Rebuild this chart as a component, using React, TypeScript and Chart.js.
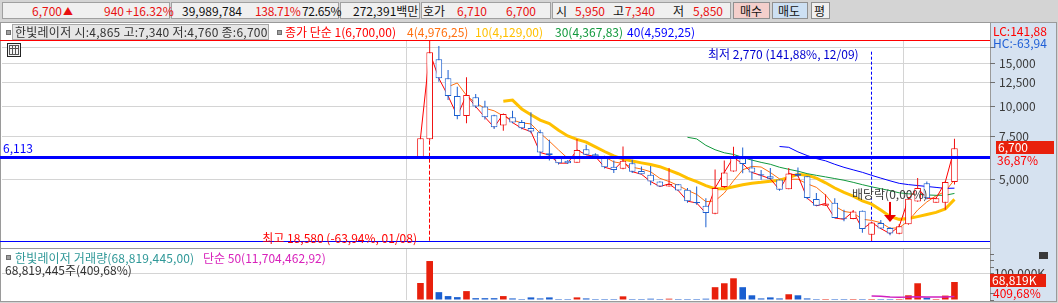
import React, { useEffect, useRef } from 'react';
import { Chart, registerables } from 'chart.js';

Chart.register(...registerables);

const FONT = "'Noto Sans CJK KR', 'Noto Sans', sans-serif";

// ---- weekly candles (index 0..58) ----
const opens = [6150, 7300, 15580, 13010, 11010, 9110, 10870, 9950, 9170, 8310, 9000, 8600, 8120, 7800, 6400, 6200, 5960, 5850, 6640, 6330, 6200, 5630, 5515, 5820, 5410, 5210, 4890, 4665, 4770, 4520, 4030, 3885, 3600, 4640, 5375, 6100, 5580, 5240, 5140, 4980, 4550, 5260, 5140, 4140, 3885, 4000, 3450, 3430, 3710, 2950, 3300, 3150, 2980, 3260, 4045, 4815, 4000, 4000, 4865];
const highs = [7400, 18580, 17670, 14080, 12020, 13140, 11220, 10520, 9200, 9300, 9570, 8770, 9420, 7980, 7260, 6230, 6000, 7320, 6930, 6400, 6250, 5970, 6810, 6010, 5640, 5660, 4900, 5560, 4780, 4600, 4660, 4170, 5480, 5970, 6800, 6750, 6100, 5460, 5560, 4990, 5560, 5590, 5150, 4390, 4330, 4170, 3740, 3730, 3720, 3320, 3400, 3180, 3270, 4220, 5055, 4890, 4180, 4900, 7340];
const lows = [6120, 7200, 12600, 10600, 8820, 8500, 9820, 8800, 8050, 7910, 8500, 8030, 7730, 6150, 5970, 5750, 5780, 5850, 6290, 6150, 5530, 5300, 5500, 5300, 5230, 4720, 4650, 4650, 4480, 4000, 3920, 3170, 3590, 4600, 5370, 5290, 4970, 4970, 4970, 4480, 4540, 5120, 4130, 3880, 3880, 3450, 3360, 3420, 3010, 2770, 3120, 2940, 2970, 3250, 4040, 4130, 4000, 3740, 4760];
const closes = [7370, 16650, 13010, 11010, 9110, 11110, 9950, 9000, 8180, 9280, 8550, 8100, 7850, 6440, 6280, 5820, 5820, 6600, 6300, 6200, 5600, 5460, 5960, 5370, 5240, 4890, 4665, 4780, 4490, 4060, 3990, 3625, 4600, 5330, 6150, 5780, 5330, 5180, 5020, 4520, 5280, 5170, 4180, 3885, 3970, 3460, 3420, 3680, 3115, 3320, 3130, 2985, 3200, 4150, 4600, 4170, 4170, 4865, 6700];
const volumes = [65000000, 149000000, 30000000, 15000000, 11000000, 34000000, 7000000, 7000000, 7000000, 15000000, 6000000, 2500000, 10000000, 6000000, 10000000, 2500000, 2500000, 10000000, 6000000, 2000000, 2000000, 2000000, 14000000, 2000000, 2000000, 5000000, 2000000, 5000000, 2000000, 2000000, 2000000, 5000000, 49000000, 64000000, 83000000, 49000000, 18000000, 6000000, 10000000, 6000000, 22000000, 18000000, 6000000, 2000000, 2000000, 2000000, 2000000, 2000000, 2000000, 2000000, 2000000, 2000000, 2000000, 18000000, 64000000, 9000000, 2000000, 16800000, 68819445];

const priceTicks = [5000, 7500, 10000, 12500, 15000, 17500];
const volumeTicks = [0, 25000000, 50000000, 75000000, 100000000, 125000000, 150000000, 175000000];
const volumeLabelTick = 100000000;
const yearDividers = [-1.5, 52.5];
const maPeriods = [4, 10, 30, 40];
const maColors = ['#ff7010', '#ffc000', '#10983c', '#0000ff'];
const maWidths = [1, 3, 1, 1];
const userLine = 6113;
const dividendIndex = 51;

const PRICE_MIN = Math.min(...lows);
const PRICE_MAX = Math.max(...highs);
const HIGH_IDX = highs.indexOf(PRICE_MAX);
const LOW_IDX = lows.indexOf(PRICE_MIN);
const X_MIN = -45.45;
const X_MAX = 61.86;
const VOL_MAX = 195000000;

const UP = '#f01010';
const DOWN = '#1a5fd0';
const candleColors = closes.map((c, i) => (c >= opens[i] ? UP : DOWN));
const volColors = closes.map((c, i) => (c >= opens[i] ? '#e8200c' : '#1a5fd0'));

const sma = (src: number[], n: number) =>
  src
    .map((_, i) => (i < n - 1 ? null : { x: i, y: src.slice(i - n + 1, i + 1).reduce((a, b) => a + b, 0) / n }))
    .filter((p) => p !== null) as { x: number; y: number }[];

const fmt = (v: number) => Math.round(v).toLocaleString('en-US');

const overlay = {
  id: 'overlay',
  beforeDatasetsDraw(chart: any) {
    const { ctx, chartArea: a, scales } = chart;
    const x = scales.x;
    const y = scales.y;
    ctx.save();
    ctx.lineWidth = 1;
    const hx = Math.floor(x.getPixelForValue(HIGH_IDX)) + 0.5;
    ctx.strokeStyle = '#ff0000';
    ctx.setLineDash([4, 2]);
    ctx.beginPath();
    ctx.moveTo(hx, y.getPixelForValue(lows[HIGH_IDX]));
    ctx.lineTo(hx, a.bottom);
    ctx.stroke();
    const lx = Math.floor(x.getPixelForValue(LOW_IDX)) + 0.5;
    ctx.strokeStyle = '#0000ff';
    ctx.setLineDash([3, 2]);
    ctx.beginPath();
    ctx.moveTo(lx, a.top + 11);
    ctx.lineTo(lx, y.getPixelForValue(highs[LOW_IDX]));
    ctx.stroke();
    ctx.restore();
  },
  afterDatasetsDraw(chart: any) {
    const { ctx, chartArea: a, scales } = chart;
    const x = scales.x;
    const y = scales.y;
    ctx.save();
    const hline = (v: number, color: string, w: number) => {
      const py = Math.floor(y.getPixelForValue(v)) + (w % 2 ? 0.5 : 0);
      ctx.strokeStyle = color;
      ctx.lineWidth = w;
      ctx.beginPath();
      ctx.moveTo(a.left - 2, py);
      ctx.lineTo(a.right, py);
      ctx.stroke();
    };
    hline(PRICE_MAX, '#ff0000', 1);
    hline(PRICE_MIN, '#0000ff', 1);
    hline(userLine, '#0000ff', 3);
    // dividend marker
    const dx = x.getPixelForValue(dividendIndex);
    const tip = y.getPixelForValue(highs[dividendIndex]) - 5;
    ctx.fillStyle = '#e80000';
    ctx.beginPath();
    ctx.moveTo(dx - 6, tip - 7);
    ctx.lineTo(dx + 6, tip - 7);
    ctx.lineTo(dx, tip);
    ctx.closePath();
    ctx.fill();
    ctx.strokeStyle = '#e80000';
    ctx.lineWidth = 2;
    ctx.beginPath();
    ctx.moveTo(dx, tip - 20);
    ctx.lineTo(dx, tip - 6);
    ctx.stroke();
    ctx.restore();
  },
};

const xAxis = () => ({
  type: 'linear',
  min: X_MIN,
  max: X_MAX,
  bounds: 'data',
  offset: false,
  afterBuildTicks: (s: any) => {
    s.ticks = yearDividers.map((v) => ({ value: v }));
  },
  afterFit: (s: any) => {
    s.height = 0;
    s.paddingLeft = 0;
    s.paddingRight = 0;
  },
  ticks: { display: false },
  grid: { color: '#d4d4d4', drawTicks: false, offset: false },
  border: { display: false },
});

const Txt = (p: { x?: number; r?: number; y: number; c: string; fs?: number; ls?: number; children: any }) => (
  <div
    style={{
      position: 'absolute',
      left: p.x,
      right: p.r,
      top: p.y - 8,
      height: 16,
      lineHeight: '16px',
      color: p.c,
      fontSize: p.fs || 12,
      letterSpacing: p.ls ? `${p.ls}px` : undefined,
      whiteSpace: 'nowrap',
    }}
  >
    {p.children}
  </div>
);

const Box = (p: { x: number; y: number; w: number; h: number; bg: string; bc?: string }) => (
  <div
    style={{
      position: 'absolute',
      left: p.x,
      top: p.y,
      width: p.w,
      height: p.h,
      boxSizing: 'border-box',
      background: p.bg,
      border: p.bc ? `1px solid ${p.bc}` : 'none',
    }}
  />
);

export default function App() {
  const mainRef = useRef<HTMLCanvasElement>(null);
  const volRef = useRef<HTMLCanvasElement>(null);

  useEffect(() => {
    const font = { family: FONT, size: 12 };
    const lineDs = maPeriods.map((n, k) => ({
      type: 'line',
      data: sma(closes, n),
      borderColor: maColors[k],
      borderWidth: maWidths[k],
      pointRadius: 0,
      order: 6 - k,
    }));
    const main = new Chart(mainRef.current as HTMLCanvasElement, {
      type: 'bar',
      data: {
        datasets: [
          {
            type: 'bar',
            data: opens.map((o, i) => ({ x: i, y: [o, closes[i]] })),
            backgroundColor: '#ffffff',
            borderColor: candleColors,
            borderWidth: 1,
            borderSkipped: false,
            grouped: false,
            maxBarThickness: 7,
            minBarLength: 1,
            inflateAmount: 0,
            order: 0,
          },
          {
            type: 'bar',
            data: lows.map((l, i) => ({ x: i, y: [l, highs[i]] })),
            backgroundColor: candleColors,
            borderWidth: 0,
            grouped: false,
            maxBarThickness: 1,
            inflateAmount: 0,
            order: 1,
          },
          {
            type: 'line',
            data: closes.map((c, i) => ({ x: i, y: c })),
            borderColor: '#ff0000',
            borderWidth: 1,
            pointRadius: 0,
            order: 2,
          },
          ...lineDs,
        ] as any,
      },
      options: {
        responsive: false,
        animation: false,
        devicePixelRatio: 1,
        events: [],
        layout: { padding: { left: 2, right: 0, top: 20.7, bottom: 6.5 } },
        plugins: { legend: { display: false }, tooltip: { enabled: false } },
        scales: {
          x: xAxis() as any,
          y: {
            type: 'logarithmic',
            position: 'right',
            min: PRICE_MIN,
            max: PRICE_MAX,
            bounds: 'data',
            afterBuildTicks: (s: any) => {
              s.ticks = priceTicks.map((v) => ({ value: v }));
            },
            afterFit: (s: any) => {
              s.width = 68;
              s.paddingTop = 0;
              s.paddingBottom = 0;
            },
            ticks: {
              callback: (v: any) => (Number(v) === 17500 ? '' : fmt(Number(v))),
              color: '#3a3a3a',
              font,
              padding: 4,
              autoSkip: false,
              maxRotation: 0,
            },
            grid: { color: '#d4d4d4', tickColor: '#707070', tickLength: 5, drawTicks: true },
            border: { display: false },
          } as any,
        },
      },
      plugins: [overlay],
    } as any);

    const vol = new Chart(volRef.current as HTMLCanvasElement, {
      type: 'bar',
      data: {
        datasets: [
          {
            type: 'bar',
            data: volumes.map((v, i) => ({ x: i, y: v })),
            backgroundColor: volColors,
            borderWidth: 0,
            grouped: false,
            maxBarThickness: 7,
            minBarLength: 1,
            inflateAmount: 0,
            order: 1,
          },
          {
            type: 'line',
            data: sma(volumes, 50),
            borderColor: '#d020c0',
            borderWidth: 1.5,
            pointRadius: 0,
            order: 0,
          },
        ] as any,
      },
      options: {
        responsive: false,
        animation: false,
        devicePixelRatio: 1,
        events: [],
        layout: { padding: { left: 2, right: 0, top: 1, bottom: 2 } },
        plugins: { legend: { display: false }, tooltip: { enabled: false } },
        scales: {
          x: xAxis() as any,
          y: {
            type: 'linear',
            position: 'right',
            min: 0,
            max: VOL_MAX,
            bounds: 'data',
            afterBuildTicks: (s: any) => {
              s.ticks = volumeTicks.map((v) => ({ value: v }));
            },
            afterFit: (s: any) => {
              s.width = 68;
              s.paddingTop = 0;
              s.paddingBottom = 0;
            },
            ticks: {
              callback: (v: any) => (Number(v) === volumeLabelTick ? fmt(Number(v) / 1000) + 'K' : ''),
              color: '#3a3a3a',
              font,
              padding: 0,
              autoSkip: false,
              maxRotation: 0,
            },
            grid: {
              color: (c: any) => (c.tick && c.tick.value === volumeLabelTick ? '#d4d4d4' : 'rgba(0,0,0,0)'),
              tickColor: '#707070',
              tickLength: 4,
              drawTicks: true,
            },
            border: { display: false },
          } as any,
        },
      },
    } as any);

    return () => {
      main.destroy();
      vol.destroy();
    };
  }, []);

  const red = '#e81010';
  const toolBoxes = [
    [2, 170],
    [171, 339],
    [340, 420],
    [421, 551],
    [552, 731],
  ];

  return (
    <div
      style={{
        position: 'fixed',
        left: 0,
        top: 0,
        width: 1058,
        height: 303,
        background: '#d4d4d4',
        overflow: 'hidden',
        fontFamily: FONT,
        fontSize: 12,
      }}
    >
      {/* toolbar */}
      {toolBoxes.map(([a, b], k) => (
        <Box key={k} x={a} y={2} w={b - a} h={17} bg="#f0f0f0" bc="#a0a0a0" />
      ))}
      <Box x={733} y={2} w={37} h={17} bg="#f4cfcb" bc="#909090" />
      <Box x={772} y={2} w={36} h={17} bg="#cde0f3" bc="#909090" />
      <Box x={811} y={2} w={19} h={17} bg="#f0f0f0" bc="#909090" />
      <Txt x={32} y={11} c={red}>6,700</Txt>
      <Txt x={63} y={11} c={red} fs={10}>▲</Txt>
      <Txt x={104} y={11} c={red}>940</Txt>
      <Txt x={126} y={11} c={red}>+16.32%</Txt>
      <Txt x={182} y={11} c="#111">39,989,784</Txt>
      <Txt x={255} y={11} c={red} ls={-0.3}>138.71%</Txt>
      <Txt x={302} y={11} c="#111" ls={-0.3}>72.65%</Txt>
      <Txt x={353} y={11} c="#111">272,391백만</Txt>
      <Txt x={423} y={11} c="#111">호가</Txt>
      <Txt x={457} y={11} c={red}>6,710</Txt>
      <Txt x={506} y={11} c={red}>6,700</Txt>
      <Txt x={556} y={11} c="#111">시</Txt>
      <Txt x={575} y={11} c={red}>5,950</Txt>
      <Txt x={613} y={11} c="#111">고</Txt>
      <Txt x={625} y={11} c={red}>7,340</Txt>
      <Txt x={673} y={11} c="#111">저</Txt>
      <Txt x={693} y={11} c={red}>5,850</Txt>
      <Txt x={740} y={11} c="#111">매수</Txt>
      <Txt x={778} y={11} c="#111">매도</Txt>
      <Txt x={814} y={11} c="#111">평</Txt>

      {/* chart frame */}
      <Box x={0} y={22} w={1057} h={280} bg="#ffffff" bc="#9a9a9a" />
      <Box x={990} y={22} w={67} h={280} bg="#d6e2f0" bc="#9a9a9a" />
      <Box x={0} y={248} w={991} h={1} bg="#9a9a9a" />

      <canvas ref={mainRef} width={1058} height={228} style={{ position: 'absolute', left: 0, top: 20, width: 1058, height: 228 }} />
      <canvas ref={volRef} width={1058} height={54} style={{ position: 'absolute', left: 0, top: 248, width: 1058, height: 54 }} />

      {/* legend row */}
      <Box x={6} y={30} w={5} h={5} bg="#a0a0a0" bc="#707070" />
      <Box x={12} y={24} w={257} h={16} bg="#e6e6e6" bc="#a8a8a8" />
      <Txt x={15} y={32} c="#333" ls={0.25}>한빛레이저 시:4,865 고:7,340 저:4,760 종:6,700</Txt>
      <Box x={277} y={30} w={5} h={5} bg="#a0a0a0" bc="#707070" />
      <Txt x={285} y={32} c="#ff0000">종가 단순 1(6,700,00)</Txt>
      <Txt x={407} y={32} c="#ff7010">4(4,976,25)</Txt>
      <Txt x={475} y={32} c="#ffc000">10(4,129,00)</Txt>
      <Txt x={555} y={32} c="#10983c">30(4,367,83)</Txt>
      <Txt x={627} y={32} c="#0000ff">40(4,592,25)</Txt>

      {/* table icon */}
      <div style={{ position: 'absolute', left: 7, top: 43, width: 14, height: 14, boxSizing: 'border-box', border: '1px solid #222', background: '#f4f4f4' }}>
        <div
          style={{
            position: 'absolute',
            left: 1,
            top: 1,
            width: 10,
            height: 10,
            boxSizing: 'border-box',
            border: '1px solid #555',
            backgroundImage: 'linear-gradient(#555,#555), linear-gradient(#555,#555), linear-gradient(#555,#555)',
            backgroundSize: '1px 100%, 1px 100%, 100% 1px',
            backgroundPosition: '2px 0, 5px 0, 0 2px',
            backgroundRepeat: 'no-repeat',
          }}
        />
      </div>

      {/* chart annotations */}
      <Txt x={3} y={148} c="#0000ff">6,113</Txt>
      <Txt r={641} y={238} c="#ff0000">최고 18,580 (-63,94%, 01/08)</Txt>
      <Txt x={708} y={54} c="#0000d0">최저 2,770 (141,88%, 12/09)</Txt>
      <Txt x={852} y={194} c="#3c3c3c">배당락(0,00%)</Txt>

      {/* right panel labels */}
      <Txt x={993} y={31} c="#ff0000">LC:141,88</Txt>
      <Txt x={993} y={43} c="#1f5fd6">HC:-63,94</Txt>
      <Box x={996} y={141} w={58} h={13} bg="#e8200c" />
      <Txt x={998} y={147} c="#ffffff">6,700</Txt>
      <Txt x={997} y={160} c="#ff0000">36,87%</Txt>

      {/* volume panel labels */}
      <Box x={6} y={255} w={5} h={5} bg="#a0a0a0" bc="#707070" />
      <Txt x={15} y={258} c="#2f9898" ls={0.15}>한빛레이저 거래량(68,819,445,00)</Txt>
      <Txt x={203} y={258} c="#d822bb">단순 50(11,704,462,92)</Txt>
      <Txt x={5} y={270} c="#333">68,819,445주(409,68%)</Txt>
      <Box x={1039} y={252} w={9} h={7} bg="#3a3a3a" />
      <Box x={990} y={274} w={56} h={13} bg="#e8200c" />
      <Txt x={992} y={280} c="#ffffff">68,819K</Txt>
      <Txt x={993} y={293} c="#ff0000">409,68%</Txt>
    </div>
  );
}
